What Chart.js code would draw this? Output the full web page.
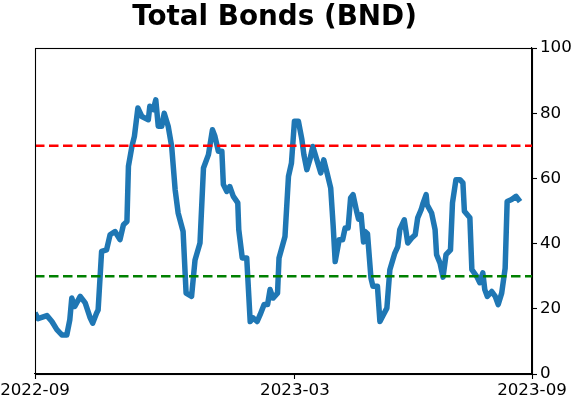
<!DOCTYPE html>
<html>
<head>
<meta charset="utf-8">
<script src="https://cdn.jsdelivr.net/npm/chart.js@4"></script>
<style>
  html, body { margin: 0; padding: 0; background: #fff; }
</style>
</head>
<body>
<canvas id="bndChart" width="571" height="402"></canvas>
<script>
// position along the time axis (0 = 2022-09, 100 = 2023-09)
const xPos = [
  0, 0.6, 2.4, 3.4, 4.4, 5.4, 6.4, 7.0, 7.4, 8.0, 9.1, 10.1, 11.1, 11.6, 12.4, 12.7,
  13.4, 14.4, 15.1, 16.1, 17.1, 17.8, 18.5, 18.8, 19.5, 20.0, 20.7, 21.5, 22.8, 23.1,
  23.8, 24.3, 24.8, 25.5, 26.0, 26.8, 27.5, 28.2, 28.8, 29.8, 30.4, 31.5, 32.2, 33.2,
  33.9, 34.9, 35.7, 36.2, 36.9, 37.6, 37.9, 38.6, 39.2, 39.9, 40.8, 41.0, 41.7, 42.6,
  43.3, 43.9, 44.7, 45.3, 46.1, 46.8, 47.3, 47.9, 48.8, 49.1, 50.3, 51.0, 51.6, 52.2,
  53.0, 53.7, 54.1, 54.7, 55.3, 55.9, 56.7, 57.5, 58.1, 58.7, 59.5, 60.0, 60.4, 61.2,
  61.9, 62.4, 63.0, 63.5, 64.0, 64.7, 65.1, 65.6, 66.1, 66.4, 66.9, 67.6, 68.0, 68.9,
  69.4, 70.1, 70.8, 71.4, 72.4, 73.0, 73.4, 74.3, 75.0, 75.8, 76.5, 77.0, 77.7, 78.1,
  78.7, 78.9, 79.8, 80.5, 80.8, 81.5, 82.1, 82.7, 83.6, 84.0, 84.7, 85.5, 86.1, 86.4,
  87.5, 87.9, 88.9, 89.5, 90.1, 90.5, 91.0, 91.9, 92.6, 93.2, 93.9, 94.6, 95.0, 95.9,
  96.8, 97.6
];
// indicator values
const values = [
  18.8, 17.0, 17.9, 16.1, 13.6, 12.0, 12.0, 16.6, 23.3, 20.7, 23.8, 21.8, 17.2, 15.6, 18.7, 19.6,
  37.6, 38.1, 42.7, 43.7, 41.2, 45.8, 46.8, 63.7, 69.8, 72.9, 81.6, 79.0, 78.0, 82.1,
  81.1, 84.1, 76.0, 76.0, 80.0, 76.0, 69.8, 56.5, 49.4, 43.7, 24.8, 23.8, 35.0, 40.2,
  63.2, 67.3, 74.9, 72.9, 68.3, 68.3, 58.1, 56.0, 57.5, 54.5, 52.5, 44.3, 35.6, 35.6,
  16.1, 17.2, 16.1, 18.2, 21.3, 21.3, 25.9, 23.3, 24.8, 35.6, 42.2, 60.6, 64.7, 77.5,
  77.5, 71.9, 67.3, 62.7, 65.7, 69.8, 65.7, 61.7, 65.7, 62.1, 57.0, 45.3, 34.5, 41.2,
  41.2, 44.8, 44.8, 54.0, 55.0, 50.0, 47.5, 48.9, 40.5, 43.7, 43.0, 29.4, 26.9, 26.9,
  16.1, 18.2, 20.2, 32.0, 37.1, 39.1, 44.3, 47.3, 40.2, 41.7, 42.7, 47.9, 50.4, 52.5,
  55.0, 51.9, 49.4, 44.3, 36.6, 34.0, 29.7, 36.6, 38.1, 52.5, 59.6, 59.6, 58.6, 49.9,
  47.9, 32.0, 29.9, 28.0, 31.0, 25.9, 23.8, 25.3, 23.8, 21.3, 24.8, 32.5, 52.9, 53.5,
  54.5, 52.9
];
const tickPos = [0, 52.3, 100];
const tickLabels = ['2022-09', '2023-03', '2023-09'];
const upperLevel = 70;
const lowerLevel = 30;
const chartTitle = 'Total Bonds (BND)';

const tickFont = { family: 'DejaVu Sans', size: 16.7 };

// 補上方與左側框線
const framePlugin = {
    id: 'frame',
    afterDatasetsDraw(chart) {
        const { ctx, chartArea: a } = chart;
        ctx.save();
        ctx.strokeStyle = '#000';
        ctx.lineWidth = 1.1;
        ctx.strokeRect(Math.round(a.left) + 0.5, Math.round(a.top) + 0.5,
            Math.round(a.right - a.left), Math.round(a.bottom - a.top));
        ctx.restore();
    }
};

// 標題（位置對齊原圖）
const titlePlugin = {
    id: 'plainTitle',
    afterDraw(chart) {
        const { ctx } = chart;
        ctx.save();
        ctx.fillStyle = '#000';
        ctx.font = 'bold 27.8px "DejaVu Sans"';
        ctx.textAlign = 'center';
        ctx.textBaseline = 'alphabetic';
        ctx.fillText(chartTitle, 274.5, 25);
        ctx.restore();
    }
};

document.addEventListener('DOMContentLoaded', () => {
    const ctx = document.getElementById('bndChart').getContext('2d');

    new Chart(ctx, {
        type: 'line',
        data: {
            datasets: [
                {
                    data: [{ x: 0, y: upperLevel }, { x: 100, y: upperLevel }],
                    borderColor: '#ff0000',
                    borderWidth: 2.5,
                    borderDash: [9.5, 4.5],
                    pointRadius: 0
                },
                {
                    data: [{ x: 0, y: lowerLevel }, { x: 100, y: lowerLevel }],
                    borderColor: '#008000',
                    borderWidth: 2.5,
                    borderDash: [9.5, 4.5],
                    pointRadius: 0
                },
                {
                    data: xPos.map((x, i) => ({ x: x, y: values[i] })),
                    borderColor: '#1f77b4',
                    borderWidth: 5.5,
                    borderJoinStyle: 'round',
                    pointRadius: 0,
                    tension: 0
                }
            ]
        },
        options: {
            responsive: false,
            animation: false,
            layout: { padding: { left: 35, right: 0, top: 48, bottom: 0 } },
            plugins: {
                legend: { display: false },
                tooltip: { enabled: false },
                title: { display: false }
            },
            scales: {
                x: {
                    type: 'linear',
                    min: 0,
                    max: 100,
                    afterBuildTicks: (scale) => {
                        scale.ticks = tickPos.map(v => ({ value: v }));
                    },
                    afterFit: (scale) => {
                        scale.height = 28;
                        scale.paddingLeft = 0;
                        scale.paddingRight = 0;
                    },
                    ticks: {
                        autoSkip: false,
                        maxRotation: 0,
                        color: '#000',
                        font: tickFont,
                        padding: 2,
                        callback: (v) => tickLabels[tickPos.indexOf(v)]
                    },
                    grid: { drawOnChartArea: false, tickLength: 5, color: '#000', tickWidth: 1.1 },
                    border: { color: '#000', width: 1.1 }
                },
                y: {
                    position: 'right',
                    min: 0,
                    max: 100,
                    afterFit: (scale) => {
                        scale.width = 39;
                        scale.paddingTop = 0;
                        scale.paddingBottom = 0;
                    },
                    ticks: {
                        stepSize: 20,
                        color: '#000',
                        font: tickFont,
                        padding: 3
                    },
                    grid: { drawOnChartArea: false, tickLength: 5, color: '#000', tickWidth: 1.1 },
                    border: { color: '#000', width: 1.1 }
                }
            }
        },
        plugins: [framePlugin, titlePlugin]
    });
});
</script>
</body>
</html>
